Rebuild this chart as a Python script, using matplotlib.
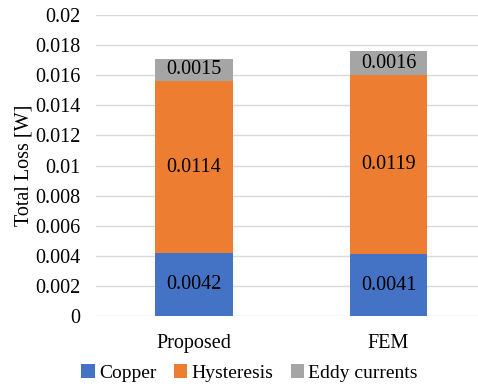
import matplotlib
matplotlib.use("Agg")
import matplotlib.pyplot as plt
import numpy as np

# data
methods = ["Proposed", "FEM"]
copper = [0.0042, 0.0041]
hysteresis = [0.0114, 0.0119]
eddy = [0.0015, 0.0016]
series_names = ["Copper", "Hysteresis", "Eddy currents"]
colors = ["#4472C4", "#ED7D31", "#A5A5A5"]
yticks = [0, 0.002, 0.004, 0.006, 0.008, 0.01, 0.012, 0.014, 0.016, 0.018, 0.02]

plt.rcParams["font.family"] = ["Liberation Serif", "DejaVu Serif"]
plt.rcParams["font.size"] = 14.5

fig = plt.figure(figsize=(4.78, 3.87), dpi=100)
ax = fig.add_axes([0.2008, 0.1835, 0.7992, 0.7777])

x = np.arange(len(methods))
width = 0.40
bottom = np.zeros(len(methods))
for name, vals, col in zip(series_names, [copper, hysteresis, eddy], colors):
    bars = ax.bar(x, vals, width, bottom=bottom, color=col, label=name,
                  zorder=3, edgecolor="none")
    for rect, v, b in zip(bars, vals, bottom):
        ax.text(rect.get_x() + rect.get_width() / 2, b + v / 2, f"{v:.4f}",
                ha="center", va="center", fontsize=14.5, color="black", zorder=4)
    bottom = bottom + np.array(vals)

ax.set_xlim(-0.504, 1.46)
ax.set_ylim(0, 0.02)
ax.set_yticks(yticks)
ax.set_yticklabels([f"{t:g}" for t in yticks])
ax.set_xticks(x)
ax.set_xticklabels(methods)
ax.tick_params(axis="both", length=0)
ax.tick_params(axis="y", pad=11)
ax.tick_params(axis="x", pad=13)
ax.grid(axis="y", color="#D9D9D9", linewidth=1.0, zorder=0)
for s in ax.spines.values():
    s.set_visible(False)

ax.set_ylabel("Total Loss [W]", fontsize=14.5)
ax.yaxis.set_label_coords(-0.163, 0.5)

fig.legend(loc="center", bbox_to_anchor=(0.522, 0.036), ncol=3, frameon=False,
           handlelength=0.7, handleheight=0.7, handletextpad=0.2,
           columnspacing=0.9, fontsize=14)

fig.savefig("out.png", dpi=100)
